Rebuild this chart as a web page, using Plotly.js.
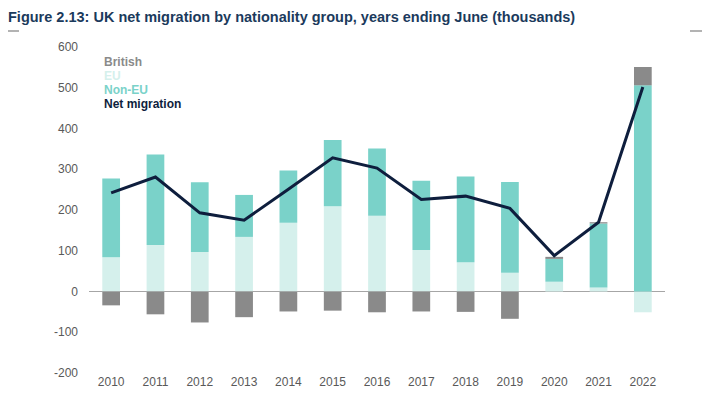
<!DOCTYPE html>
<html>
<head>
<meta charset="utf-8">
<script src="https://cdn.plot.ly/plotly-3.0.1.min.js"></script>
<style>html,body{margin:0;padding:0;background:#fff;}#chart{width:720px;height:415px;}</style>
</head>
<body>
<div id="chart"></div>
<script>
const years = ['2010','2011','2012','2013','2014','2015','2016','2017','2018','2019','2020','2021','2022'];
const euValues = [84,114,97,134,169,209,186,102,72,46,24,10,-51];
const nonEuValues = [193,222,171,103,128,163,165,170,210,223,56,157,506];
const britishValues = [-34,-56,-76,-63,-49,-47,-51,-49,-50,-67,5,3,45];
const netMigration = [242,281,193,175,251,328,303,226,234,204,88,170,502];
const yTicks = [-200,-100,0,100,200,300,400,500,600];
const legendLabels = ['British','EU','Non-EU','Net migration'];

const cBritish = '#8a8a8a', cEU = '#d5f0ec', cNonEU = '#7ad2c9', cNet = '#0e1e3d';

const traces = [
  {type:'bar', x:years, y:euValues, name:'EU', marker:{color:cEU}, hoverinfo:'skip'},
  {type:'bar', x:years, y:nonEuValues, name:'Non-EU', marker:{color:cNonEU}, hoverinfo:'skip'},
  {type:'bar', x:years, y:britishValues, name:'British', marker:{color:cBritish}, hoverinfo:'skip'},
  {type:'scatter', mode:'lines', x:years, y:netMigration, name:'Net migration', line:{color:cNet, width:3}, hoverinfo:'skip'}
];

const W = 720, H = 415, L = 89, R = 55, T = 47, B = 42;
const pw = W - L - R, ph = H - T - B;
const px = v => (v - L) / pw;
const py = v => (H - B - v) / ph;

const legendColors = [cBritish, cEU, cNonEU, cNet];
const legendY = [62, 76, 90, 104];
const annotations = legendLabels.map((t,i) => ({
  text: '<b>' + t + '</b>', x: px(102), y: py(legendY[i]), xref:'paper', yref:'paper',
  xanchor:'left', yanchor:'middle', showarrow:false,
  font:{family:'Liberation Sans, Arial, sans-serif', size:12, color:legendColors[i]}
}));

const layout = {
  width:W, height:H,
  margin:{l:L, r:R, t:T, b:B, pad:0},
  paper_bgcolor:'#fff', plot_bgcolor:'#fff',
  barmode:'relative', bargap:0.6,
  showlegend:false,
  title:{text:'<b>Figure 2.13: UK net migration by nationality group, years ending June (thousands)</b>',
    x:8/W, xref:'container', xanchor:'left', y:1-17/H, yref:'container', yanchor:'middle',
    font:{family:'Liberation Sans Narrow, Liberation Sans, sans-serif', size:14.5, color:'#1b3a5c'}},
  xaxis:{type:'category', range:[-0.5,12.5], showgrid:false, zeroline:false, showline:false,
    ticks:'', tickfont:{family:'Liberation Sans, Arial, sans-serif', size:12, color:'#595959'}, fixedrange:true},
  yaxis:{range:[-200,600], tickvals:yTicks, ticktext:yTicks.map(String), showgrid:false,
    zeroline:true, zerolinecolor:'#a6a6a6', zerolinewidth:1, showline:false, ticks:'',
    ticklabelstandoff:10,
    tickfont:{family:'Liberation Sans, Arial, sans-serif', size:12, color:'#595959'}, fixedrange:true},
  annotations: annotations,
  shapes:[
    {type:'line', xref:'paper', yref:'paper', x0:px(8), x1:px(19), y0:py(31), y1:py(31), line:{color:'#9a9a9a', width:1.5}},
    {type:'line', xref:'paper', yref:'paper', x0:px(690), x1:px(702), y0:py(31), y1:py(31), line:{color:'#9a9a9a', width:1.5}}
  ]
};

Plotly.newPlot('chart', traces, layout, {displayModeBar:false, staticPlot:true});
</script>
</body>
</html>
